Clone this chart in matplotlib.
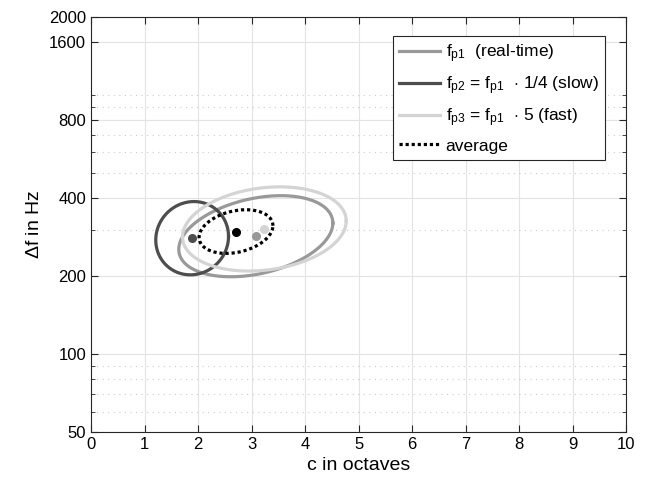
import matplotlib.pyplot as plt
import numpy as np
from matplotlib.ticker import FixedLocator, NullFormatter

plt.rcParams['font.family'] = ['Liberation Sans', 'DejaVu Sans']
plt.rcParams['mathtext.fontset'] = 'custom'
plt.rcParams['mathtext.rm'] = 'Liberation Sans'
plt.rcParams['mathtext.it'] = 'Liberation Sans'

# ellipse data: centre (c in octaves, delta f in Hz), half-widths (octaves, log2 units), tilt
labels = [r'$\mathregular{f_{p1}}$  (real-time)',
          r'$\mathregular{f_{p2}}$ = $\mathregular{f_{p1}}$  $\cdot$ 1/4 (slow)',
          r'$\mathregular{f_{p3}}$ = $\mathregular{f_{p1}}$  $\cdot$ 5 (fast)',
          'average']
center_c = [3.08, 1.89, 3.24, 2.71]
center_f = [285, 280, 304, 297]
radius_c = [1.44, 0.68, 1.53, 0.69]
radius_f = [0.52, 0.47, 0.54, 0.28]
tilt = [0.33, 0.05, 0.19, 0.27]
colors = ['#999999', '#4d4d4d', '#d4d4d4', 'black']
styles = ['-', '-', '-', (0, (1, 0.9))]

yticks = [50, 100, 200, 400, 800, 1600, 2000]
yminor = [60, 70, 80, 90, 300, 500, 600, 700, 900, 1000]

fig = plt.figure(figsize=(6.46, 4.93), dpi=100)
ax = fig.add_axes([0.1409, 0.1237, 0.8282, 0.8418])
ax.set_yscale('log')

t = np.linspace(0, 2 * np.pi, 300)
for i in range(4):
    xs = center_c[i] + radius_c[i] * np.cos(t)
    ys = center_f[i] * 2 ** (radius_f[i] * np.sin(t + tilt[i]))
    ax.plot(xs, ys, color=colors[i], lw=2.3, ls=styles[i], label=labels[i])

for i in [1, 3, 0, 2]:
    ax.plot(center_c[i], center_f[i], 'o', color=colors[i], ms=5.5)

ax.set_xlim(0, 10)
ax.set_ylim(50, 2000)
ax.set_xticks(range(11))
ax.yaxis.set_major_locator(FixedLocator(yticks))
ax.set_yticklabels([str(v) for v in yticks])
ax.yaxis.set_minor_locator(FixedLocator(yminor))
ax.yaxis.set_minor_formatter(NullFormatter())

ax.grid(True, which='major', color='#e3e3e3', lw=0.8, ls='-')
ax.grid(True, which='minor', axis='y', color='#cccccc', lw=0.8, ls=(0, (1, 4)))
ax.set_axisbelow(True)

ax.tick_params(which='both', direction='in', top=True, right=True, labelsize=12,
               color='#262626')
ax.tick_params(which='major', length=5)
ax.tick_params(which='minor', length=3)
for s in ax.spines.values():
    s.set_color('#262626')
    s.set_linewidth(0.8)

ax.set_xlabel('c in octaves', fontsize=14)
ax.set_ylabel(r'$\Delta$f in Hz', fontsize=14)

leg = ax.legend(loc='upper right', bbox_to_anchor=(0.967, 0.963), fontsize=12.5,
                handlelength=2.4, handletextpad=0.3, labelspacing=0.55,
                borderpad=0.35, borderaxespad=0.2, fancybox=False, framealpha=1,
                edgecolor='#262626')
leg.get_frame().set_linewidth(0.8)

fig.savefig('out.png')
